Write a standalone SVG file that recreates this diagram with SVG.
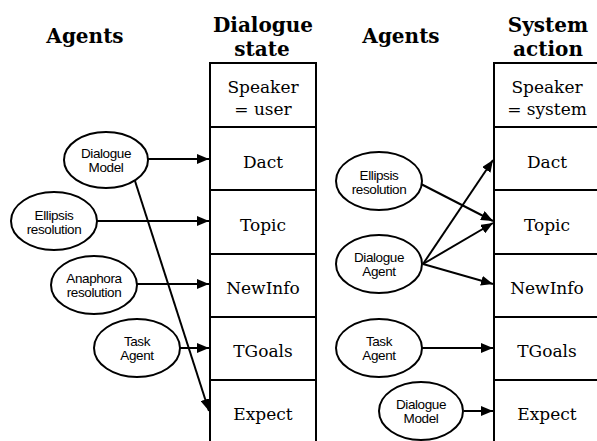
<svg xmlns="http://www.w3.org/2000/svg" width="597" height="441" viewBox="0 0 597 441">
<style>
.title{font-family:"DejaVu Serif","Liberation Serif",serif;font-weight:bold;font-size:20px;text-anchor:middle;fill:#000}
.row{font-family:"DejaVu Serif","Liberation Serif",serif;font-size:17px;text-anchor:middle;fill:#000}
.box{fill:none;stroke:#000;stroke-width:2}
.ell{fill:#fff;stroke:#000;stroke-width:2}
.lbl{font-family:"Liberation Sans",Arial,sans-serif;font-size:13.5px;text-anchor:middle;fill:#000;letter-spacing:-0.4px}
.edge{fill:none;stroke:#000;stroke-width:2;marker-end:url(#ah)}
</style>
<defs>
<marker id="ah" viewBox="0 0 12 10" refX="12" refY="5" markerWidth="12" markerHeight="10" markerUnits="userSpaceOnUse" orient="auto">
<path d="M0,0 L12,5 L0,10 z" fill="#000"/>
</marker>
</defs>
<rect width="597" height="441" fill="#fff"/>

<g id="titles">
<text class="title" x="85" y="43">Agents</text>
<text class="title" x="263" y="32">Dialogue</text>
<text class="title" x="262" y="56">state</text>
<text class="title" x="401" y="43">Agents</text>
<text class="title" x="548" y="32">System</text>
<text class="title" x="548" y="56">action</text>
</g>

<g id="dialogue-state">
<rect class="box" x="210" y="63" width="106" height="382"/>
<path class="box" d="M210,127H316M210,190H316M210,254H316M210,317H316M210,380H316"/>
<text class="row" x="263" y="93">Speaker</text>
<text class="row" x="263" y="115">= user</text>
<text class="row" x="263" y="168">Dact</text>
<text class="row" x="263" y="231">Topic</text>
<text class="row" x="263" y="294">NewInfo</text>
<text class="row" x="263" y="357">TGoals</text>
<text class="row" x="263" y="420">Expect</text>
</g>

<g id="system-action">
<rect class="box" x="494" y="63" width="108" height="382"/>
<path class="box" d="M494,127H602M494,190H602M494,254H602M494,317H602M494,380H602"/>
<text class="row" x="547" y="93">Speaker</text>
<text class="row" x="547" y="115">= system</text>
<text class="row" x="547" y="168">Dact</text>
<text class="row" x="547" y="231">Topic</text>
<text class="row" x="547" y="294">NewInfo</text>
<text class="row" x="547" y="357">TGoals</text>
<text class="row" x="547" y="420">Expect</text>
</g>

<g id="connectors">
<line class="edge" x1="148" y1="159" x2="209" y2="159"/>
<line class="edge" x1="97" y1="221" x2="209" y2="221"/>
<line class="edge" x1="137" y1="284" x2="209" y2="284"/>
<line class="edge" x1="180" y1="348" x2="209" y2="348"/>
<line class="edge" x1="135" y1="181" x2="209" y2="411"/>
<line class="edge" x1="421" y1="184" x2="493" y2="221"/>
<line class="edge" x1="423" y1="264" x2="493" y2="160"/>
<line class="edge" x1="423" y1="264" x2="493" y2="223"/>
<line class="edge" x1="423" y1="264" x2="493" y2="284"/>
<line class="edge" x1="422" y1="348" x2="493" y2="348"/>
<line class="edge" x1="464" y1="411" x2="493" y2="411"/>
</g>

<g id="l-dialogue-model">
<ellipse class="ell" cx="106" cy="160" rx="42" ry="28"/>
<text class="lbl" x="106" y="158">Dialogue</text>
<text class="lbl" x="106" y="172">Model</text>
</g>
<g id="l-ellipsis">
<ellipse class="ell" cx="54" cy="221" rx="43" ry="29"/>
<text class="lbl" x="54" y="220">Ellipsis</text>
<text class="lbl" x="54" y="234">resolution</text>
</g>
<g id="l-anaphora">
<ellipse class="ell" cx="94" cy="285" rx="43" ry="29"/>
<text class="lbl" x="94" y="283">Anaphora</text>
<text class="lbl" x="94" y="297">resolution</text>
</g>
<g id="l-task">
<ellipse class="ell" cx="137" cy="348" rx="43" ry="29"/>
<text class="lbl" x="137" y="346">Task</text>
<text class="lbl" x="137" y="360">Agent</text>
</g>

<g id="r-ellipsis">
<ellipse class="ell" cx="379" cy="181" rx="43" ry="29"/>
<text class="lbl" x="379" y="180">Ellipsis</text>
<text class="lbl" x="379" y="194">resolution</text>
</g>
<g id="r-dialogue-agent">
<ellipse class="ell" cx="379" cy="264" rx="43" ry="29"/>
<text class="lbl" x="379" y="262">Dialogue</text>
<text class="lbl" x="379" y="276">Agent</text>
</g>
<g id="r-task">
<ellipse class="ell" cx="379" cy="348" rx="43" ry="29"/>
<text class="lbl" x="379" y="346">Task</text>
<text class="lbl" x="379" y="360">Agent</text>
</g>
<g id="r-dialogue-model">
<ellipse class="ell" cx="421" cy="411" rx="42" ry="29"/>
<text class="lbl" x="421" y="409">Dialogue</text>
<text class="lbl" x="421" y="423">Model</text>
</g>
</svg>
